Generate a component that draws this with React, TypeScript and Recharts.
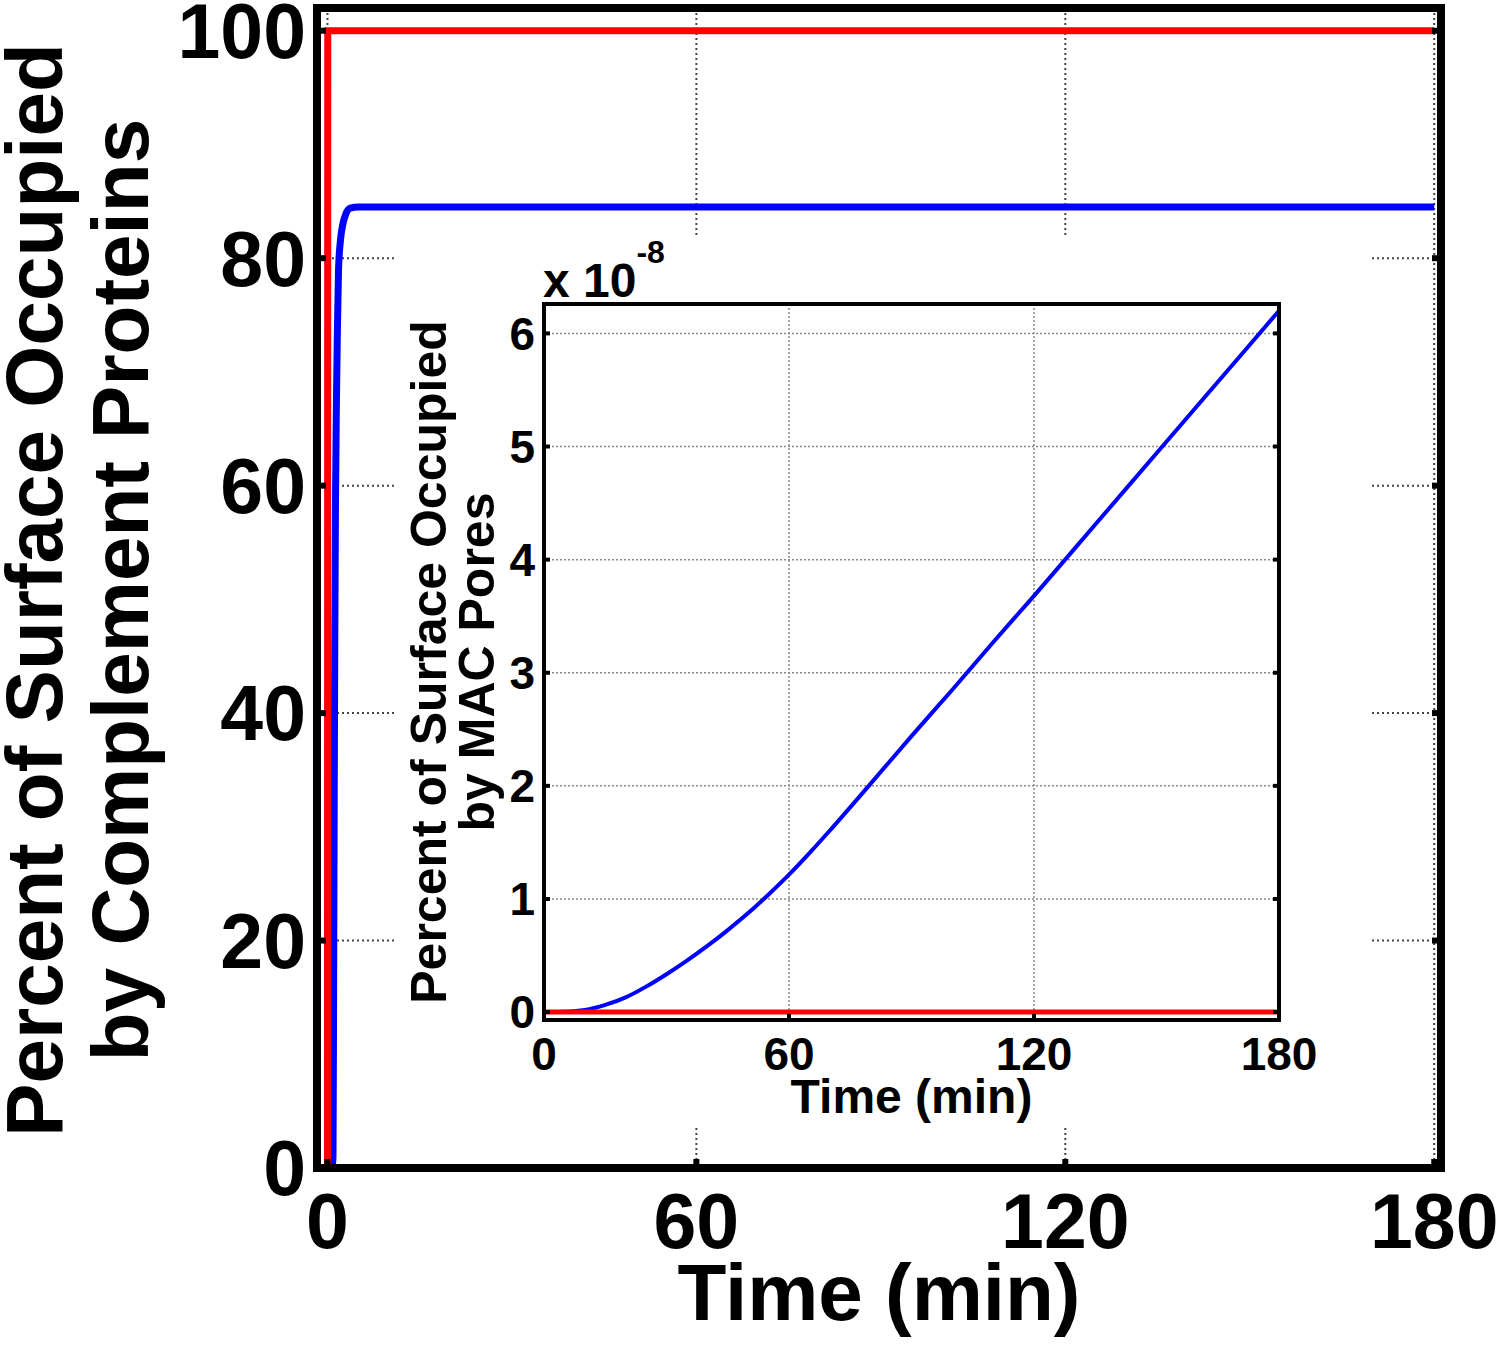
import React from 'react';
import { LineChart, Line, XAxis, YAxis, CartesianGrid } from 'recharts';

// main panel: % surface occupied by complement proteins
const mainTimeTicks = [0, 60, 120, 180];
const mainValueTicks = [0, 20, 40, 60, 80, 100];

const redTimes = [0, 0.05, 0.3, 180];
const redValues = [0, 100, 100, 100];

const blueTimes = [0, 0.8, 0.9, 1.0, 1.1, 1.2, 1.3, 1.45, 1.6, 1.8, 2.1, 2.5, 3.0, 3.7, 5, 180];
const blueValues = [0, 0.2, 1, 15, 33, 47, 58, 67, 73, 79, 81.5, 83, 83.9, 84.4, 84.5, 84.5];

// inset: % surface occupied by MAC pores (x 10^-8)
const insetTimeTicks = [0, 60, 120, 180];
const insetValueTicks = [0, 1, 2, 3, 4, 5, 6];

const insetTimes = [0, 5, 10, 15, 20, 25, 30, 35, 40, 45, 50, 55, 60, 65, 70, 80, 90, 100, 110, 120, 135, 150, 165, 180];
const insetBlue = [0, 0.003, 0.018, 0.063, 0.13, 0.225, 0.335, 0.455, 0.585, 0.725, 0.875, 1.04, 1.215, 1.405, 1.605, 2.02, 2.44, 2.85, 3.27, 3.68, 4.31, 4.94, 5.57, 6.2];
const insetRedTimes = [0, 180];
const insetRedValues = [0, 0];

const toPoints = (xs: number[], ys: number[]) => xs.map((t, i) => ({ t, v: ys[i] }));

const mainRed = toPoints(redTimes, redValues);
const mainBlue = toPoints(blueTimes, blueValues);
const macBlue = toPoints(insetTimes, insetBlue);
const macRed = toPoints(insetRedTimes, insetRedValues);

const FONT = '"Liberation Sans", Arial, Helvetica, sans-serif';
const blank = () => '';

const MainYTitle = (props: any) => {
  const cy = props.viewBox.y + props.viewBox.height / 2 + 2;
  return (
    <g fontSize={80} fontWeight={700} fill="#000">
      <text x={62} y={cy} textAnchor="middle" transform={`rotate(-90 62 ${cy})`}>
        Percent of Surface Occupied
      </text>
      <text x={148} y={cy} textAnchor="middle" transform={`rotate(-90 148 ${cy})`}>
        by Complement Proteins
      </text>
    </g>
  );
};

const InsetYTitle = (props: any) => {
  const cy = props.viewBox.y + props.viewBox.height / 2;
  return (
    <g fontSize={50} fontWeight={700} fill="#000">
      <text x={49} y={cy} textAnchor="middle" transform={`rotate(-90 49 ${cy})`}>
        Percent of Surface Occupied
      </text>
      <text x={97} y={cy} textAnchor="middle" transform={`rotate(-90 97 ${cy})`}>
        by MAC Pores
      </text>
    </g>
  );
};

const ExponentLabel = () => (
  <text x={146} y={62} fontSize={48} fontWeight={700} fill="#000">
    x 10
    <tspan dy={-34} fontSize={32}>-8</tspan>
  </text>
);

const App: React.FC = () => {
  const mainLine = { stroke: '#000', strokeWidth: 8, strokeLinecap: 'square' as const };
  const mainTick = { stroke: '#000', strokeWidth: 6 };
  const mainTickText = { fill: '#000', fontSize: 77, fontWeight: 700 };
  const insetLine = { stroke: '#000', strokeWidth: 4, strokeLinecap: 'square' as const };
  const insetTick = { stroke: '#000', strokeWidth: 4 };
  const insetTickText = { fill: '#000', fontSize: 46, fontWeight: 700 };

  return (
    <div style={{ position: 'absolute', left: 0, top: 0, width: 1500, height: 1346, background: '#fff', fontFamily: FONT }}>
      <LineChart width={1500} height={1346} margin={{ top: 0, right: 0, bottom: 0, left: 0 }}>
        <CartesianGrid
          xAxisId="b"
          yAxisId="l"
          stroke="#444"
          strokeWidth={2}
          strokeDasharray="2 3"
          verticalValues={mainTimeTicks}
          horizontalValues={mainValueTicks}
        />
        <XAxis
          xAxisId="b"
          orientation="bottom"
          type="number"
          dataKey="t"
          domain={[-1.7, 181.1]}
          ticks={mainTimeTicks}
          interval={0}
          allowDataOverflow
          height={178}
          axisLine={mainLine}
          tickLine={mainTick}
          tickSize={-9}
          tickMargin={34}
          tick={mainTickText}
          label={{ value: 'Time (min)', position: 'insideBottom', offset: 26, fontSize: 80, fontWeight: 700, fill: '#000' }}
        />
        <XAxis
          xAxisId="t"
          orientation="top"
          type="number"
          domain={[-1.7, 181.1]}
          ticks={mainTimeTicks}
          interval={0}
          allowDataOverflow
          height={8}
          axisLine={mainLine}
          tickLine={mainTick}
          tickSize={-9}
          tickFormatter={blank}
        />
        <YAxis
          yAxisId="l"
          orientation="left"
          type="number"
          domain={[0, 102]}
          ticks={mainValueTicks}
          interval={0}
          allowDataOverflow
          width={317}
          axisLine={mainLine}
          tickLine={mainTick}
          tickSize={-9}
          tickMargin={20}
          tick={mainTickText}
          label={MainYTitle}
        />
        <YAxis
          yAxisId="r"
          orientation="right"
          type="number"
          domain={[0, 102]}
          ticks={mainValueTicks}
          interval={0}
          allowDataOverflow
          width={59}
          axisLine={mainLine}
          tickLine={mainTick}
          tickSize={-9}
          tickFormatter={blank}
        />
        <Line xAxisId="b" yAxisId="l" data={mainBlue} dataKey="v" type="monotone" stroke="#0000ff" strokeWidth={7} dot={false} isAnimationActive={false} />
        <Line xAxisId="b" yAxisId="l" data={mainRed} dataKey="v" type="linear" stroke="#ff0000" strokeWidth={7} dot={false} isAnimationActive={false} />
      </LineChart>

      <div style={{ position: 'absolute', left: 397, top: 235, width: 973, height: 890, background: '#fff' }}>
        <LineChart width={973} height={890} margin={{ top: 0, right: 0, bottom: 0, left: 0 }}>
          <CartesianGrid
            xAxisId="b"
            yAxisId="l"
            stroke="#8a8a8a"
            strokeWidth={1.5}
            strokeDasharray="2 2"
            verticalValues={insetTimeTicks}
            horizontalValues={insetValueTicks}
          />
          <XAxis
            xAxisId="b"
            orientation="bottom"
            type="number"
            dataKey="t"
            domain={[0, 180]}
            ticks={insetTimeTicks}
            interval={0}
            allowDataOverflow
            height={105}
            axisLine={insetLine}
            tickLine={insetTick}
            tickSize={-6}
            tickMargin={23}
            tick={insetTickText}
            label={{ value: 'Time (min)', position: 'insideBottom', offset: 12, fontSize: 48, fontWeight: 700, fill: '#000' }}
          />
          <XAxis
            xAxisId="t"
            orientation="top"
            type="number"
            domain={[0, 180]}
            ticks={insetTimeTicks}
            interval={0}
            allowDataOverflow
            height={69}
            axisLine={insetLine}
            tickLine={insetTick}
            tickSize={-6}
            tickFormatter={blank}
            label={ExponentLabel}
          />
          <YAxis
            yAxisId="l"
            orientation="left"
            type="number"
            domain={[-0.07, 6.26]}
            ticks={insetValueTicks}
            interval={0}
            allowDataOverflow
            width={147}
            axisLine={insetLine}
            tickLine={insetTick}
            tickSize={-6}
            tickMargin={15}
            tick={insetTickText}
            label={InsetYTitle}
          />
          <YAxis
            yAxisId="r"
            orientation="right"
            type="number"
            domain={[-0.07, 6.26]}
            ticks={insetValueTicks}
            interval={0}
            allowDataOverflow
            width={91}
            axisLine={insetLine}
            tickLine={insetTick}
            tickSize={-6}
            tickFormatter={blank}
          />
          <Line xAxisId="b" yAxisId="l" data={macBlue} dataKey="v" type="monotone" stroke="#0000ff" strokeWidth={4} dot={false} isAnimationActive={false} />
          <Line xAxisId="b" yAxisId="l" data={macRed} dataKey="v" type="linear" stroke="#ff0000" strokeWidth={5} dot={false} isAnimationActive={false} />
        </LineChart>
      </div>
    </div>
  );
};

export default App;
